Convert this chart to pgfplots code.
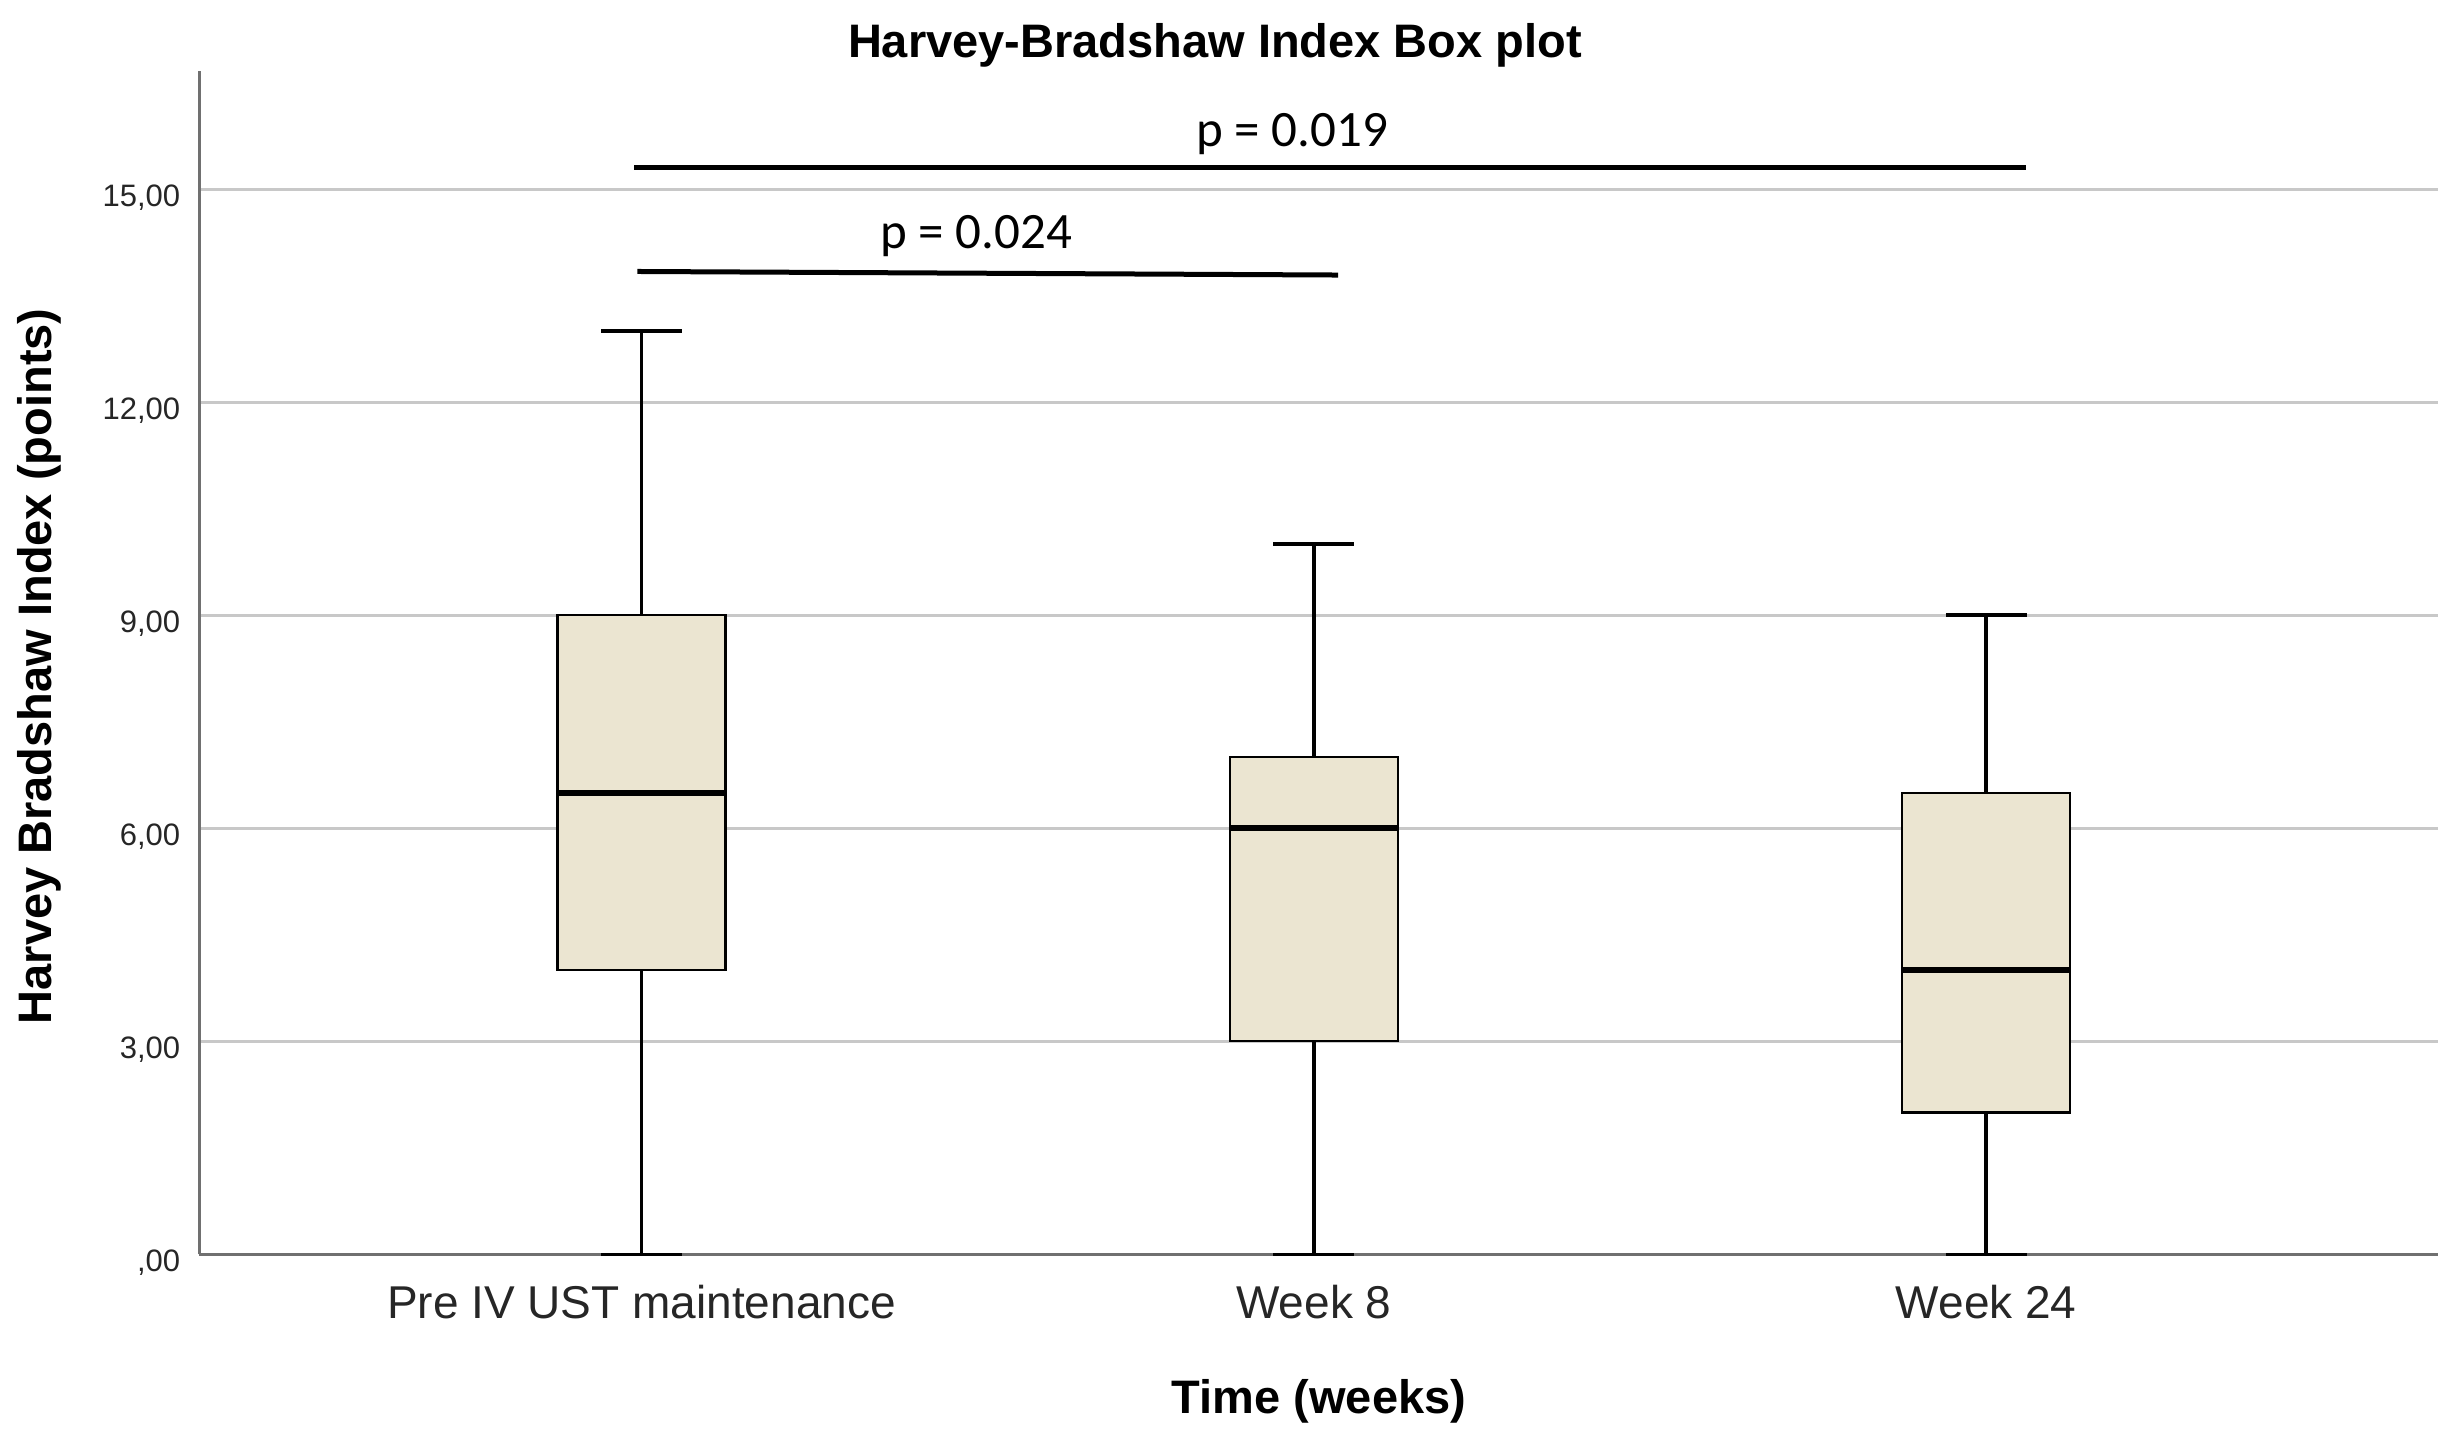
\documentclass[border=0pt]{standalone}
\usepackage{pgfplots}
\pgfplotsset{compat=1.18}
\usepgfplotslibrary{statistics}
\usepackage{fontspec}
\setmainfont{Liberation Sans}
\newfontfamily\carlito{Carlito}
\definecolor{boxfill}{RGB}{235,229,209}
\definecolor{gridgray}{RGB}{200,200,200}
\definecolor{axisgray}{RGB}{112,112,112}

\begin{document}
\begin{tikzpicture}
\begin{axis}[
 at={(0,0)}, anchor=south west,
 scale only axis, width=559.75pt, height=295.95pt,
 xmin=-0.658, xmax=2.672, ymin=0, ymax=16.67,
 axis x line*=bottom, axis y line*=left,
 axis line style={axisgray, line width=0.75pt, -},
 xtick={0,1,2}, xticklabels={Pre IV UST maintenance, Week 8, Week 24},
 ytick={0,3,6,9,12,15}, yticklabels={{,00},{3,00},{6,00},{9,00},{12,00},{15,00}},
 major tick length=0pt,
 ymajorgrids, grid style={gridgray, line width=0.75pt},
 xticklabel style={font=\fontsize{11.5}{13}\selectfont, text=black!85, anchor=base, yshift=-16pt, inner sep=0pt},
 yticklabel style={font=\fontsize{7.75}{9}\selectfont, text=black!85, anchor=base east, inner sep=0pt, xshift=-4.5pt, yshift=-4.25pt},
 boxplot/draw direction=y,
 boxplot/every box/.style={draw=black, fill=boxfill, line width=0.6pt},
 boxplot/every whisker/.style={draw=black, line width=0.9pt},
 boxplot/every median/.style={draw=black, line width=1.5pt},
 clip=false,
]
\addplot[boxplot prepared={draw position=0, lower whisker=0, lower quartile=4, median=6.5, upper quartile=9, upper whisker=13, box extend=0.25, whisker extend=0.12}] coordinates {};
\addplot[boxplot prepared={draw position=1, lower whisker=0, lower quartile=3, median=6, upper quartile=7, upper whisker=10, box extend=0.25, whisker extend=0.12}] coordinates {};
\addplot[boxplot prepared={draw position=2, lower whisker=0, lower quartile=2, median=4, upper quartile=6.5, upper whisker=9, box extend=0.25, whisker extend=0.12}] coordinates {};
% significance bars
\addplot[black, line width=1.25pt, mark=none] coordinates {(-0.0104,15.30) (2.059,15.30)};
\addplot[black, line width=1.25pt, mark=none] coordinates {(-0.006,13.84) (1.036,13.79)};
\node[anchor=base, inner sep=0pt, font=\carlito\fontsize{12.75}{14}\selectfont] at (axis cs:0.968,15.6) {p = 0.019};
\node[anchor=base, inner sep=0pt, font=\carlito\fontsize{12.75}{14}\selectfont] at (axis cs:0.498,14.17) {p = 0.024};
\end{axis}
\node[anchor=base, inner sep=0pt, font=\bfseries\fontsize{11.75}{13}\selectfont] at (254pt,299.3pt) {Harvey-Bradshaw Index Box plot};
\node[anchor=base, inner sep=0pt, font=\bfseries\fontsize{11.75}{13}\selectfont] at (280pt,-39.7pt) {Time (weeks)};
\node[rotate=90, anchor=center, inner sep=0pt, font=\bfseries\fontsize{11.75}{13}\selectfont] at (-40pt,147pt) {Harvey Bradshaw Index (points)};
\pgfresetboundingbox
\useasboundingbox (-49.75pt,-45.43pt) rectangle (564.75pt,313.58pt);
\end{tikzpicture}
\end{document}
